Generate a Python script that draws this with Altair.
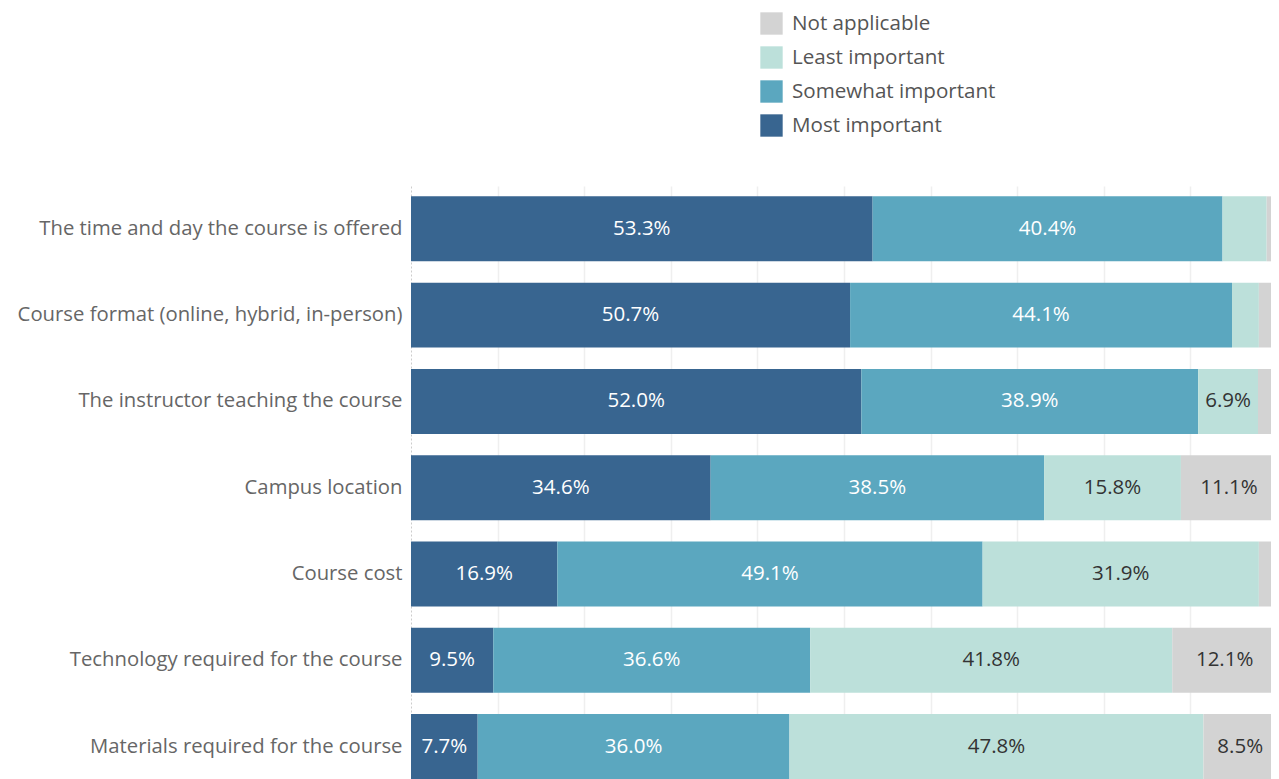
import altair as alt
import pandas as pd

categories = [
    "The time and day the course is offered",
    "Course format (online, hybrid, in-person)",
    "The instructor teaching the course",
    "Campus location",
    "Course cost",
    "Technology required for the course",
    "Materials required for the course",
]
levels = ["Most important", "Somewhat important", "Least important", "Not applicable"]
most = [53.3, 50.7, 52.0, 34.6, 16.9, 9.5, 7.7]
somewhat = [40.4, 44.1, 38.9, 38.5, 49.1, 36.6, 36.0]
least = [5.1, 3.1, 6.9, 15.8, 31.9, 41.8, 47.8]
not_applicable = [1.2, 2.1, 2.2, 11.1, 2.1, 12.1, 8.5]

colors = {
    "Not applicable": "#d3d3d3",
    "Least important": "#bce0da",
    "Somewhat important": "#5ba7bf",
    "Most important": "#386590",
}
legend_order = ["Not applicable", "Least important", "Somewhat important", "Most important"]

rows = []
for i, c in enumerate(categories):
    for j, (lvl, arr) in enumerate(zip(levels, [most, somewhat, least, not_applicable])):
        rows.append({"cat": c, "level": lvl, "value": arr[i], "ord": j,
                     "dark": lvl in ("Most important", "Somewhat important")})
df = pd.DataFrame(rows)

FONT = "Open Sans"

base = alt.Chart(df).transform_stack(
    stack="value", groupby=["cat"], as_=["x0", "x1"], sort=[alt.SortField("ord", order="ascending")]
).transform_calculate(
    mid="(datum.x0 + datum.x1) / 2",
    label="format(datum.value, '.1f') + '%'",
)

y_enc = alt.Y(
    "cat:N",
    sort=categories,
    title=None,
    scale=alt.Scale(paddingInner=0.247, paddingOuter=0.06, align=1),
    axis=alt.Axis(
        labelFontSize=20.3, labelColor="#666666", labelFont=FONT, labelPadding=9,
        ticks=False, domain=True, domainDash=[2, 2], domainColor="#cccccc",
        labelLimit=500, grid=False,
    ),
)

bars = base.mark_bar(clip=True).encode(
    x=alt.X(
        "x0:Q", title=None,
        scale=alt.Scale(domain=[0, 99.3], nice=False, clamp=False),
        axis=alt.Axis(labels=False, ticks=False, domain=False, grid=True,
                      gridColor="#efefef", gridWidth=1.5, values=list(range(10, 100, 10))),
    ),
    x2="x1:Q",
    y=y_enc,
    color=alt.Color(
        "level:N",
        scale=alt.Scale(domain=legend_order, range=[colors[k] for k in legend_order]),
        legend=alt.Legend(
            title=None, orient="none", legendX=349, legendY=-174,
            symbolType="square", symbolSize=500, symbolStrokeWidth=0, symbolOpacity=1,
            labelFontSize=20.6, labelFont=FONT, labelColor="#555555", labelOffset=9,
            rowPadding=11, padding=0, labelLimit=400,
        ),
    ),
)

texts = base.mark_text(fontSize=20.5, font=FONT, align="center", baseline="middle").encode(
    x="mid:Q",
    y=alt.Y("cat:N", sort=categories),
    text="label:N",
    color=alt.condition("datum.dark", alt.value("#ffffff"), alt.value("#333333")),
).transform_filter("datum.value >= 6")

chart = alt.layer(bars, texts).properties(
    width=860, height=593,
    autosize=alt.AutoSizeParams(type="none"),
    padding={"left": 403, "top": 178, "right": 0, "bottom": 0},
).configure_view(stroke=None)

chart.save("out.html", embed_options={"renderer": "svg", "actions": False})
